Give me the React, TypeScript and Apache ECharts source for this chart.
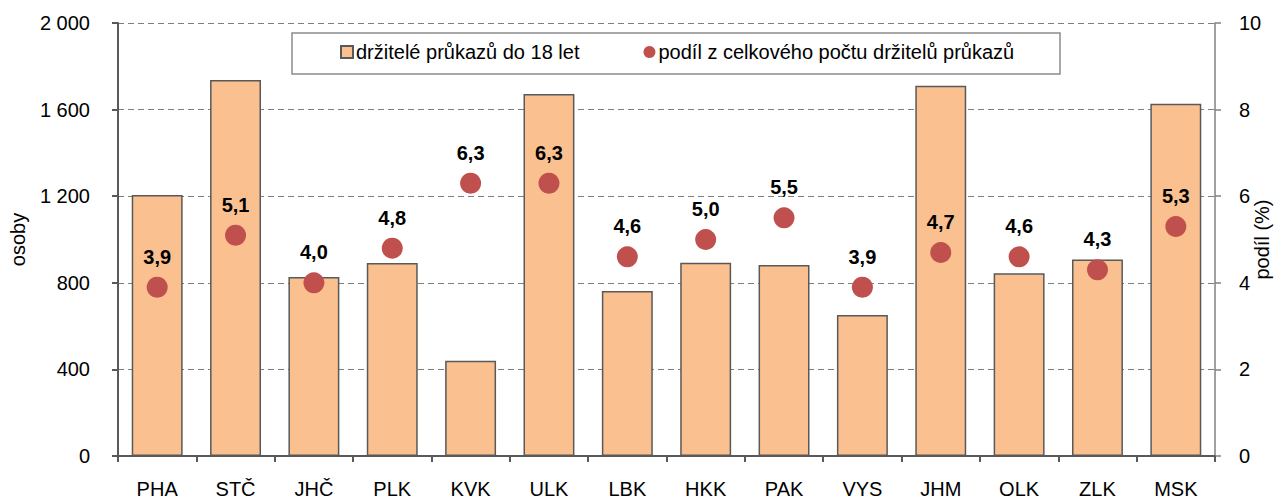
import React, { useEffect, useRef } from "react";
import * as echarts from "echarts";

const categories = ["PHA", "STČ", "JHČ", "PLK", "KVK", "ULK", "LBK", "HKK", "PAK", "VYS", "JHM", "OLK", "ZLK", "MSK"];
const holders = [1205, 1737, 827, 891, 440, 1672, 762, 893, 882, 651, 1710, 844, 908, 1627];
const shares = [3.9, 5.1, 4.0, 4.8, 6.3, 6.3, 4.6, 5.0, 5.5, 3.9, 4.7, 4.6, 4.3, 5.3];
const leftTicks = [0, 400, 800, 1200, 1600, 2000];
const rightTicks = [0, 2, 4, 6, 8, 10];

const FONT = "'Liberation Sans', Arial, sans-serif";

export default function App() {
  const ref = useRef<HTMLDivElement>(null);
  useEffect(() => {
    if (!ref.current) return;
    const chart = echarts.init(ref.current, undefined, { renderer: "svg" });
    const fmt = (v: number) => {
      const s = String(v);
      return s.length > 3 ? s.slice(0, s.length - 3) + " " + s.slice(-3) : s;
    };
    chart.setOption({
      animation: false,
      textStyle: { fontFamily: FONT },
      grid: { left: 118, right: 66, top: 23, bottom: 46, containLabel: false, outerBoundsMode: "none" },
      graphic: [
        {
          type: "rect",
          z: 5,
          shape: { x: 292, y: 33, width: 768, height: 41 },
          style: { fill: "#ffffff", stroke: "#8c8c8c", lineWidth: 1.5 },
        },
      ],
      legend: {
        left: 340,
        top: 42,
        z: 10,
        padding: 0,
        itemGap: 64,
        itemWidth: 12,
        itemHeight: 12,
        textStyle: { fontSize: 20, color: "#000", fontFamily: FONT, padding: [0, 0, 0, -2] },
        data: [
          { name: "držitelé průkazů do 18 let", icon: "rect" },
          { name: "podíl z celkového počtu držitelů průkazů", icon: "circle" },
        ],
      },
      xAxis: {
        type: "category",
        data: categories,
        axisLine: { lineStyle: { color: "#595959", width: 2 } },
        axisTick: { show: true, length: 6, lineStyle: { color: "#595959", width: 2 } },
        axisLabel: { fontSize: 20, color: "#000", margin: 23, fontFamily: FONT },
      },
      yAxis: [
        {
          type: "value",
          min: leftTicks[0],
          max: leftTicks[leftTicks.length - 1],
          interval: 400,
          name: "osoby",
          nameLocation: "middle",
          nameGap: 90,
          nameMoveOverlap: false,
          nameTextStyle: { fontSize: 20, color: "#000", fontFamily: FONT },
          axisLine: { show: true, lineStyle: { color: "#595959", width: 2 } },
          axisTick: { show: true, length: 6, lineStyle: { color: "#595959", width: 2 } },
          axisLabel: { fontSize: 20, color: "#000", margin: 28, formatter: fmt, fontFamily: FONT },
          splitLine: { show: true, lineStyle: { color: "#7f7f7f", width: 1, type: [6, 4] } },
        },
        {
          type: "value",
          min: rightTicks[0],
          max: rightTicks[rightTicks.length - 1],
          interval: 2,
          name: "podíl (%)",
          nameLocation: "middle",
          nameGap: 37,
          nameMoveOverlap: false,
          nameTextStyle: { fontSize: 20, color: "#000", fontFamily: FONT },
          axisLine: { show: true, lineStyle: { color: "#808080", width: 1.5 } },
          axisTick: { show: true, length: 6, lineStyle: { color: "#808080", width: 1.5 } },
          axisLabel: { fontSize: 20, color: "#000", margin: 24, fontFamily: FONT },
          splitLine: { show: false },
        },
      ],
      series: [
        {
          name: "držitelé průkazů do 18 let",
          type: "bar",
          data: holders,
          yAxisIndex: 0,
          barWidth: "65%",
          itemStyle: { color: "#FAC090", borderColor: "#595959", borderWidth: 1.5 },
        },
        {
          name: "podíl z celkového počtu držitelů průkazů",
          type: "scatter",
          data: shares,
          yAxisIndex: 1,
          symbol: "circle",
          symbolSize: 21,
          itemStyle: { color: "#C0504D", opacity: 1 },
          label: {
            show: true,
            position: "top",
            distance: 10,
            fontSize: 20,
            fontWeight: "bold",
            color: "#000",
            fontFamily: FONT,
            formatter: (p: any) => Number(p.value).toFixed(1).replace(".", ","),
          },
        },
      ],
    });
    return () => chart.dispose();
  }, []);
  return <div ref={ref} style={{ position: "absolute", left: 0, top: 0, width: 1281, height: 502 }} />;
}
